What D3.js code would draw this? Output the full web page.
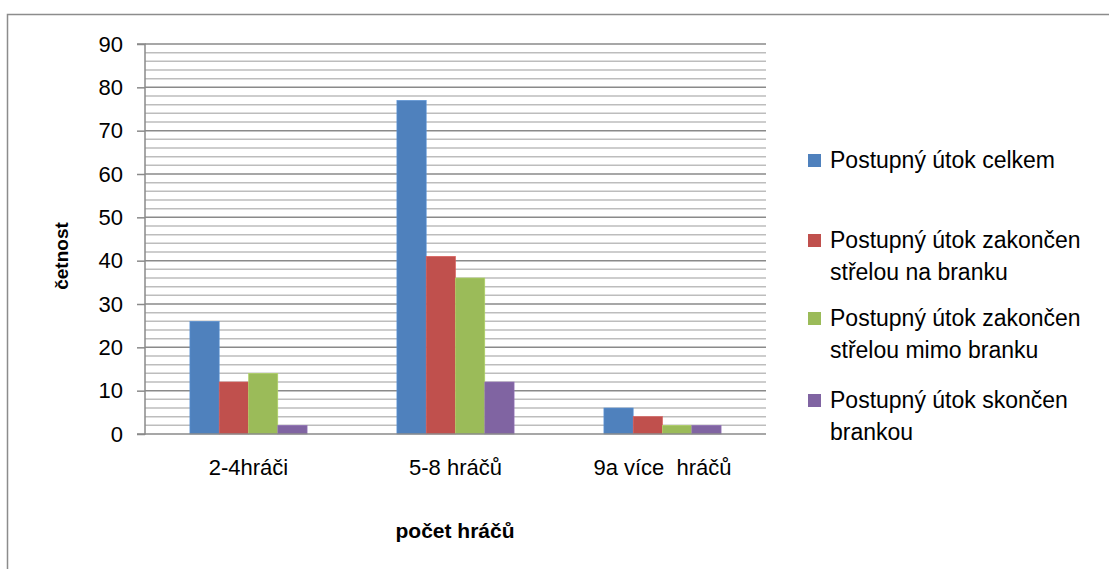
<!DOCTYPE html>
<html><head><meta charset="utf-8">
<script src="https://cdn.jsdelivr.net/npm/d3@7"></script>
<style>body{margin:0;background:#fff}svg{display:block}text{font-family:"Liberation Sans",Arial,sans-serif;fill:#000}</style>
</head><body>
<svg id="c" width="1109" height="569"></svg>
<script>
const categories = ["2-4hráči", "5-8 hráčů", "9a více  hráčů"];
const seriesNames = [
  ["Postupný útok celkem"],
  ["Postupný útok zakončen", "střelou na branku"],
  ["Postupný útok zakončen", "střelou mimo branku"],
  ["Postupný útok skončen", "brankou"]
];
const seriesColors = ["#4F81BD", "#C0504D", "#9BBB59", "#8064A2"];
const celkem = [26, 77, 6];
const naBranku = [12, 41, 4];
const mimoBranku = [14, 36, 2];
const brankou = [2, 12, 2];
const seriesValues = [celkem, naBranku, mimoBranku, brankou];
const yTicks = [0, 10, 20, 30, 40, 50, 60, 70, 80, 90];
const yMinor = d3.range(0, 91, 2);

const svg = d3.select("#c");
const L = 145, R = 766, T = 44, B = 434;

// outer border (cropped chart frame)
svg.append("path").attr("d", "M7.5,569 L7.5,14.5 L1109,14.5").attr("fill", "none").attr("stroke", "#8c8c8c").attr("stroke-width", 1.5);

const y = d3.scaleLinear().domain([0, 90]).range([B, T]);
const x0 = d3.scaleBand().domain(categories).range([L, R]).paddingInner(0).paddingOuter(0);
const groupW = x0.bandwidth();
const barW = 29.3;
const x1 = d3.scaleBand().domain(d3.range(4)).range([0, barW * 4]);

// minor gridlines
svg.append("g").selectAll("line").data(yMinor.filter(v => v % 10 !== 0)).join("line")
  .attr("x1", L).attr("x2", R).attr("y1", d => y(d)).attr("y2", d => y(d))
  .attr("stroke", "#bdbdbd").attr("stroke-width", 1.5);
// major gridlines
svg.append("g").selectAll("line").data(yTicks.filter(v => v > 0)).join("line")
  .attr("x1", L).attr("x2", R).attr("y1", d => y(d)).attr("y2", d => y(d))
  .attr("stroke", "#8a8a8a").attr("stroke-width", 1.5);

// bars
const g = svg.append("g");
categories.forEach((c, ci) => {
  const start = x0(c) + (groupW - barW * 4) / 2;
  seriesValues.forEach((vals, si) => {
    g.append("rect")
      .attr("x", start + x1(si)).attr("width", x1.bandwidth())
      .attr("y", y(vals[ci])).attr("height", B - y(vals[ci]))
      .attr("fill", seriesColors[si])
      .attr("stroke", d3.color(seriesColors[si]).brighter(0.4)).attr("stroke-width", 0.6);
  });
});

// y axis
const yAxis = d3.axisLeft(y).tickValues(yTicks).tickSize(8).tickPadding(14).tickFormat(d3.format("d"));
const ya = svg.append("g").attr("transform", `translate(${L},0)`).call(yAxis);
ya.select(".domain").attr("stroke", "#8a8a8a").attr("stroke-width", 1.5).attr("d", `M-8,${T}H0V${B}H-8`);
ya.selectAll(".tick line").attr("stroke", "#8a8a8a").attr("stroke-width", 1.5);
ya.selectAll(".tick text").style("font-size", "22px").attr("fill", "#000").attr("font-family", null);

// x axis
const xAxis = d3.axisBottom(x0).tickSize(0).tickPadding(25);
const xa = svg.append("g").attr("transform", `translate(0,${B})`).call(xAxis);
xa.select(".domain").attr("stroke", "#8a8a8a").attr("stroke-width", 1.5).attr("d", `M${L},0H${R}`);
xa.selectAll(".tick text").style("font-size", "22px").attr("fill", "#000").attr("font-family", null).style("white-space", "pre");

// axis titles
svg.append("text").attr("x", 455).attr("y", 538).attr("text-anchor", "middle")
  .style("font-size", "21px").style("font-weight", "bold").text("počet hráčů");
svg.append("text").attr("transform", "translate(68,256) rotate(-90)").attr("text-anchor", "middle")
  .style("font-size", "19px").style("font-weight", "bold").text("četnost");

// legend
const legendY = [160, 240, 318, 400];
const lg = svg.append("g");
seriesNames.forEach((lines, i) => {
  lg.append("rect").attr("x", 808).attr("y", legendY[i] - 6).attr("width", 13).attr("height", 13).attr("fill", seriesColors[i]);
  lines.forEach((t, j) => {
    lg.append("text").attr("x", 830).attr("y", legendY[i] + j * 32 + 8).style("font-size", "23px").text(t);
  });
});
</script>
</body></html>
